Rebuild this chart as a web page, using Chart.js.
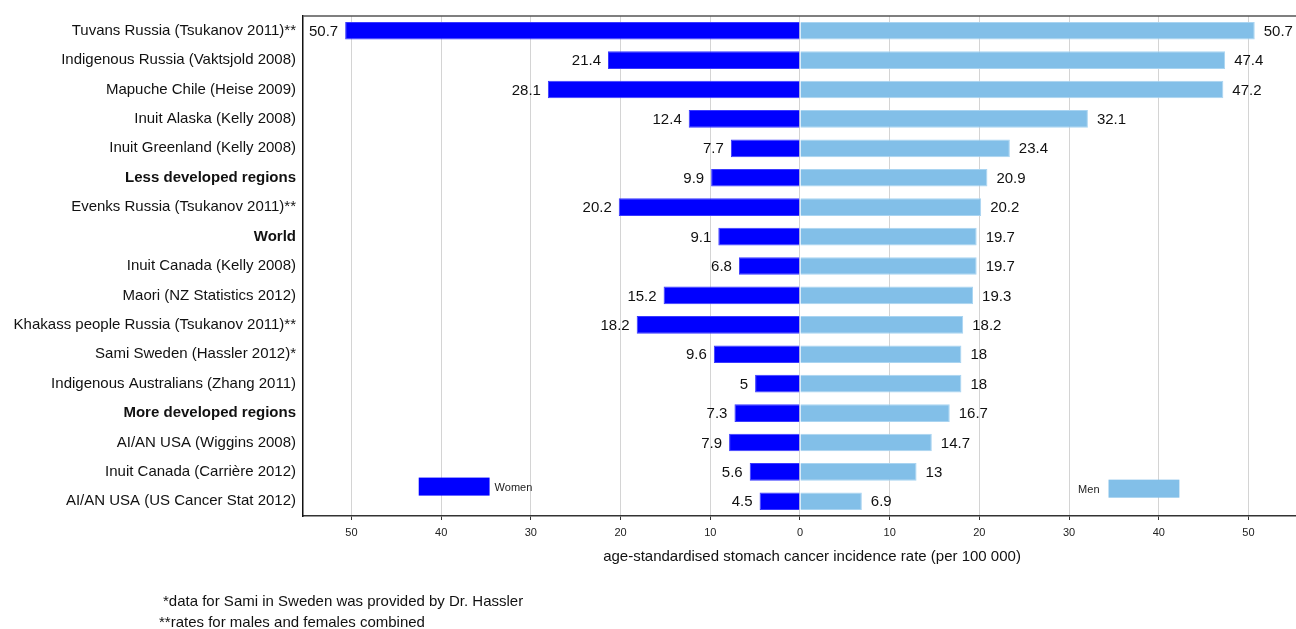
<!DOCTYPE html>
<html>
<head>
<meta charset="utf-8">
<script src="https://cdn.jsdelivr.net/npm/chart.js@4.4.0/dist/chart.umd.min.js"></script>
<style>
  body { margin: 0; background: #fff; }
  #wrap { width: 1296px; height: 629px; position: relative; }
</style>
</head>
<body>
<div id="wrap"><canvas id="chart"></canvas></div>
<script>
const categories = [
  "Tuvans Russia (Tsukanov 2011)**",
  "Indigenous Russia (Vaktsjold 2008)",
  "Mapuche Chile (Heise 2009)",
  "Inuit Alaska (Kelly 2008)",
  "Inuit Greenland (Kelly 2008)",
  "Less developed regions",
  "Evenks Russia (Tsukanov 2011)**",
  "World",
  "Inuit Canada (Kelly 2008)",
  "Maori (NZ Statistics 2012)",
  "Khakass people Russia (Tsukanov 2011)**",
  "Sami Sweden (Hassler 2012)*",
  "Indigenous Australians (Zhang 2011)",
  "More developed regions",
  "AI/AN USA (Wiggins 2008)",
  "Inuit Canada (Carrière 2012)",
  "AI/AN USA (US Cancer Stat 2012)"
];
const boldRows = ["Less developed regions", "World", "More developed regions"];
const women = [50.7, 21.4, 28.1, 12.4, 7.7, 9.9, 20.2, 9.1, 6.8, 15.2, 18.2, 9.6, 5, 7.3, 7.9, 5.6, 4.5];
const men = [50.7, 47.4, 47.2, 32.1, 23.4, 20.9, 20.2, 19.7, 19.7, 19.3, 18.2, 18, 18, 16.7, 14.7, 13, 6.9];
const tickValues = [-50, -40, -30, -20, -10, 0, 10, 20, 30, 40, 50];
const axisTitle = "age-standardised stomach cancer incidence rate (per 100 000)";
const notes = ["*data for Sami in Sweden was provided by Dr. Hassler", "**rates for males and females combined"];

const WOMEN_COL = "#0000ff";
const MEN_COL = "#82bfe8";
const FONT = "'Liberation Sans', Arial, sans-serif";

const extras = {
  id: "extras",
  afterDatasetsDraw(chart) {
    const ctx = chart.ctx;
    const xs = chart.scales.x, ys = chart.scales.y;
    const area = chart.chartArea;
    ctx.save();
    // value labels
    ctx.font = "15px " + FONT;
    ctx.fillStyle = "#111";
    ctx.textBaseline = "middle";
    chart.getDatasetMeta(0).data.forEach((bar, i) => {
      ctx.textAlign = "right";
      ctx.fillText(String(women[i]), bar.x - 7, bar.y + 1);
    });
    chart.getDatasetMeta(1).data.forEach((bar, i) => {
      ctx.textAlign = "left";
      ctx.fillText(String(men[i]), bar.x + 9, bar.y + 1);
    });
    // legend boxes inside the plot
    const h = 18;
    let yW = ys.getPixelForValue(15.5);
    let yM = ys.getPixelForValue(15.57);
    let x1 = xs.getPixelForValue(-42.5), x2 = xs.getPixelForValue(-34.6);
    ctx.fillStyle = WOMEN_COL;
    ctx.fillRect(x1, yW - h / 2, x2 - x1, h);
    ctx.font = "11px " + FONT;
    ctx.fillStyle = "#222";
    ctx.textAlign = "left";
    ctx.fillText("Women", x2 + 5, yW + 1);
    x1 = xs.getPixelForValue(34.4); x2 = xs.getPixelForValue(42.3);
    ctx.fillStyle = MEN_COL;
    ctx.fillRect(x1, yM - h / 2, x2 - x1, h);
    ctx.fillStyle = "#222";
    ctx.textAlign = "right";
    ctx.fillText("Men", x1 - 9, yM + 1);
    // top frame line
    ctx.strokeStyle = "#555";
    ctx.lineWidth = 1.5;
    ctx.beginPath();
    ctx.moveTo(area.left, area.top);
    ctx.lineTo(area.right, area.top);
    ctx.stroke();
    // axis title and footnotes
    ctx.fillStyle = "#111";
    ctx.font = "15px " + FONT;
    ctx.textAlign = "center";
    ctx.textBaseline = "alphabetic";
    ctx.fillText(axisTitle, 812, 561);
    ctx.textAlign = "left";
    ctx.fillText(notes[0], 163, 606);
    ctx.fillText(notes[1], 159, 627);
    ctx.restore();
  }
};

new Chart(document.getElementById("chart"), {
  type: "bar",
  data: {
    labels: categories,
    datasets: [{
      label: "Women",
      data: women.map(v => -v),
      backgroundColor: WOMEN_COL,
      borderColor: "#3a3aff",
      borderWidth: 1,
      barPercentage: 0.6,
      categoryPercentage: 1
    }, {
      label: "Men",
      data: men,
      backgroundColor: MEN_COL,
      borderColor: "#a9d4f1",
      borderWidth: 1,
      barPercentage: 0.6,
      categoryPercentage: 1
    }]
  },
  options: {
    indexAxis: "y",
    responsive: true,
    maintainAspectRatio: false,
    animation: false,
    layout: { padding: { top: 14, right: 0, bottom: 0, left: 0 } },
    plugins: {
      legend: { display: false },
      tooltip: { enabled: false }
    },
    scales: {
      x: {
        stacked: true,
        min: -55.4,
        max: 55.3,
        afterBuildTicks: function(scale) {
          scale.ticks = tickValues.map(v => ({ value: v }));
        },
        afterFit: function(scale) { scale.height = 113; },
        ticks: {
          color: "#222",
          font: { size: 11, family: FONT },
          padding: 6,
          maxRotation: 0,
          callback: function(value) { return Math.abs(value); }
        },
        grid: {
          color: "#d4d4d4",
          lineWidth: 1,
          tickLength: 4,
          tickColor: "#333"
        },
        border: { color: "#333", width: 1.5 }
      },
      y: {
        stacked: true,
        afterFit: function(scale) { scale.width = 303; },
        ticks: {
          color: "#111",
          padding: 7,
          autoSkip: false,
          font: function(c) {
            const lab = categories[c.index];
            return { size: 15, family: FONT, weight: boldRows.includes(lab) ? "bold" : "normal" };
          }
        },
        grid: { display: false, drawTicks: false },
        border: { color: "#111", width: 1.5 }
      }
    }
  },
  plugins: [extras]
});
</script>
</body>
</html>
